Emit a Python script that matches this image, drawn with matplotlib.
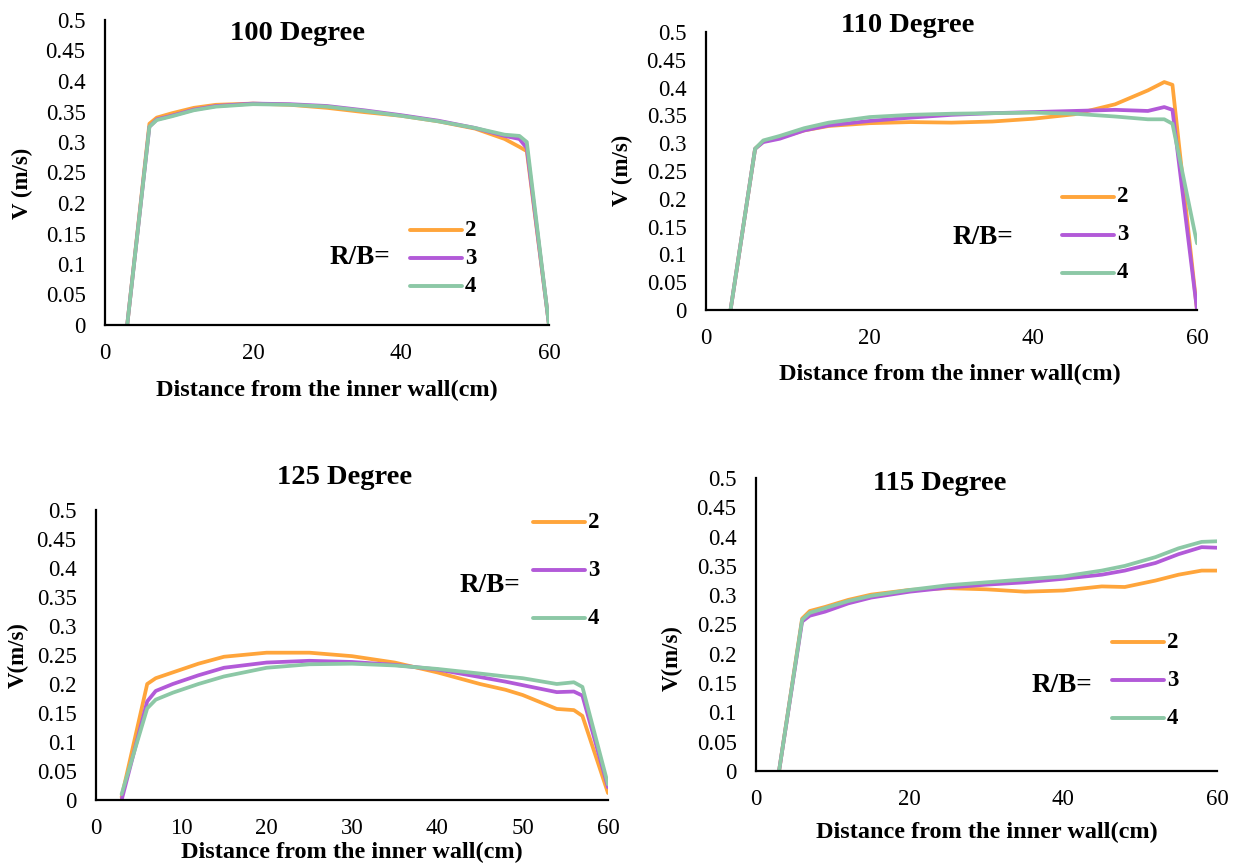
import matplotlib
matplotlib.use("Agg")
import matplotlib.pyplot as plt
from matplotlib.lines import Line2D

plt.rcParams['font.family'] = ['Liberation Serif', 'DejaVu Serif']

# ---------------- data ----------------
series_names = ["2", "3", "4"]

x100 = [3, 6, 7, 9, 12, 15, 20, 25, 30, 35, 40, 45, 50, 54, 56, 57, 60]
v100_2 = [0, 0.33, 0.34, 0.347, 0.356, 0.361, 0.363, 0.361, 0.356, 0.349, 0.343, 0.334, 0.322, 0.305, 0.292, 0.285, 0]
v100_3 = [0, 0.325, 0.337, 0.343, 0.353, 0.359, 0.363, 0.362, 0.359, 0.352, 0.344, 0.335, 0.323, 0.31, 0.305, 0.29, 0]
v100_4 = [0, 0.325, 0.336, 0.342, 0.352, 0.358, 0.362, 0.361, 0.358, 0.351, 0.343, 0.334, 0.323, 0.312, 0.31, 0.3, 0]

x110 = [3, 6, 7, 9, 12, 15, 20, 25, 30, 35, 40, 45, 50, 54, 56, 57, 60]
v110_2 = [0, 0.29, 0.303, 0.31, 0.323, 0.331, 0.336, 0.338, 0.337, 0.339, 0.344, 0.352, 0.37, 0.395, 0.41, 0.405, 0]
v110_3 = [0, 0.29, 0.302, 0.308, 0.323, 0.332, 0.34, 0.346, 0.351, 0.354, 0.356, 0.358, 0.36, 0.358, 0.365, 0.36, 0]
v110_4 = [0, 0.29, 0.305, 0.313, 0.327, 0.337, 0.347, 0.351, 0.353, 0.354, 0.355, 0.353, 0.348, 0.343, 0.343, 0.335, 0.12]

x125 = [3, 6, 7, 9, 12, 15, 20, 25, 30, 35, 40, 45, 48, 50, 54, 56, 57, 60]
v125_2 = [0.005, 0.2, 0.21, 0.22, 0.235, 0.247, 0.254, 0.254, 0.248, 0.237, 0.22, 0.2, 0.19, 0.181, 0.157, 0.155, 0.145, 0.012]
v125_3 = [0, 0.17, 0.188, 0.2, 0.215, 0.228, 0.237, 0.24, 0.238, 0.233, 0.225, 0.212, 0.204, 0.198, 0.186, 0.187, 0.18, 0.022]
v125_4 = [0.01, 0.158, 0.173, 0.185, 0.2, 0.213, 0.228, 0.234, 0.235, 0.232, 0.226, 0.218, 0.213, 0.21, 0.2, 0.203, 0.195, 0.027]

x115 = [3, 6, 7, 9, 12, 15, 20, 25, 30, 35, 40, 45, 48, 52, 55, 58, 60]
v115_2 = [0, 0.26, 0.273, 0.28, 0.292, 0.301, 0.309, 0.312, 0.31, 0.306, 0.308, 0.315, 0.314, 0.325, 0.335, 0.342, 0.342]
v115_3 = [0, 0.255, 0.265, 0.272, 0.286, 0.296, 0.306, 0.313, 0.318, 0.322, 0.328, 0.335, 0.342, 0.355, 0.37, 0.382, 0.381]
v115_4 = [0, 0.258, 0.27, 0.278, 0.29, 0.299, 0.309, 0.317, 0.322, 0.327, 0.332, 0.342, 0.35, 0.365, 0.38, 0.391, 0.392]

yticks = [0, 0.05, 0.1, 0.15, 0.2, 0.25, 0.3, 0.35, 0.4, 0.45, 0.5]
ytick_labels = ["0", "0.05", "0.1", "0.15", "0.2", "0.25", "0.3", "0.35", "0.4", "0.45", "0.5"]

colors = ["#FFA53B", "#B25AD8", "#8CC8A6"]

W, H = 1238, 865
fig = plt.figure(figsize=(W / 100, H / 100), dpi=100)


def px_rect(l, r, b, t):
    return [l / W, (H - b) / H, (r - l) / W, (b - t) / H]


def fx(x):
    return x / W


def fy(y):
    return (H - y) / H


panels = [
    dict(rect=px_rect(105, 549, 325, 20), x=x100, ys=[v100_2, v100_3, v100_4],
         xticks=[0, 20, 40, 60], title="100 Degree", title_xy=(298, 33),
         ylabel="V (m/s)", ylabel_xy=(22, 183), xlabel_xy=(327, 390),
         leg_xy=(410, 258), leg_sp=28, rb_xy=(330, 258)),
    dict(rect=px_rect(706, 1197, 310, 32), x=x110, ys=[v110_2, v110_3, v110_4],
         xticks=[0, 20, 40, 60], title="110 Degree", title_xy=(908, 26),
         ylabel="V (m/s)", ylabel_xy=(622, 170), xlabel_xy=(950, 374),
         leg_xy=(1062, 235), leg_sp=38, rb_xy=(953, 238)),
    dict(rect=px_rect(96, 608, 800, 510), x=x125, ys=[v125_2, v125_3, v125_4],
         xticks=[0, 10, 20, 30, 40, 50, 60], title="125 Degree", title_xy=(345, 478),
         ylabel="V(m/s)", ylabel_xy=(18, 655), xlabel_xy=(352, 852),
         leg_xy=(533, 570), leg_sp=48, rb_xy=(460, 586)),
    dict(rect=px_rect(756, 1217, 771, 478), x=x115, ys=[v115_2, v115_3, v115_4],
         xticks=[0, 20, 40, 60], title="115 Degree", title_xy=(940, 483),
         ylabel="V(m/s)", ylabel_xy=(672, 658), xlabel_xy=(987, 832),
         leg_xy=(1112, 680), leg_sp=38, rb_xy=(1032, 685)),
]

for p in panels:
    ax = fig.add_axes(p["rect"])
    for yv, c, n in zip(p["ys"], colors, series_names):
        ax.plot(p["x"], yv, color=c, lw=2.7, solid_capstyle="round", solid_joinstyle="round")
    ax.set_xlim(0, 60)
    ax.set_ylim(0, 0.5)
    ax.set_xticks(p["xticks"])
    ax.set_xticklabels([str(t) for t in p["xticks"]])
    ax.set_yticks(yticks)
    ax.set_yticklabels(ytick_labels)
    ax.tick_params(length=0, labelsize=16.5, pad=13)
    ax.tick_params(axis="y", pad=14)
    for s in ["top", "right"]:
        ax.spines[s].set_visible(False)
    for s in ["left", "bottom"]:
        ax.spines[s].set_linewidth(1.6)
        ax.spines[s].set_color("black")
    ax.patch.set_alpha(0)

    fig.text(fx(p["title_xy"][0]), fy(p["title_xy"][1]), p["title"], ha="center", va="center",
             fontsize=20.5, fontweight="bold")
    fig.text(fx(p["ylabel_xy"][0]), fy(p["ylabel_xy"][1]), p["ylabel"], ha="center", va="center",
             rotation=90, fontsize=16.5, fontweight="bold")
    fig.text(fx(p["xlabel_xy"][0]), fy(p["xlabel_xy"][1]), "Distance from the inner wall(cm)",
             ha="center", va="center", fontsize=17.5, fontweight="bold")
    # legend
    lx, ly = p["leg_xy"]
    sp = p["leg_sp"]
    for i, (c, n) in enumerate(zip(colors, series_names)):
        yy = ly + (i - 1) * sp
        fig.add_artist(Line2D([fx(lx), fx(lx + 52)], [fy(yy), fy(yy)], color=c, lw=2.8,
                              solid_capstyle="round", transform=fig.transFigure))
        fig.text(fx(lx + 55), fy(yy), n, ha="left", va="center", fontsize=16.5, fontweight="bold")
    fig.text(fx(p["rb_xy"][0]), fy(p["rb_xy"][1]), "R/B=", ha="left", va="center",
             fontsize=19.5, fontweight="bold")

fig.savefig("out.png", dpi=100)
